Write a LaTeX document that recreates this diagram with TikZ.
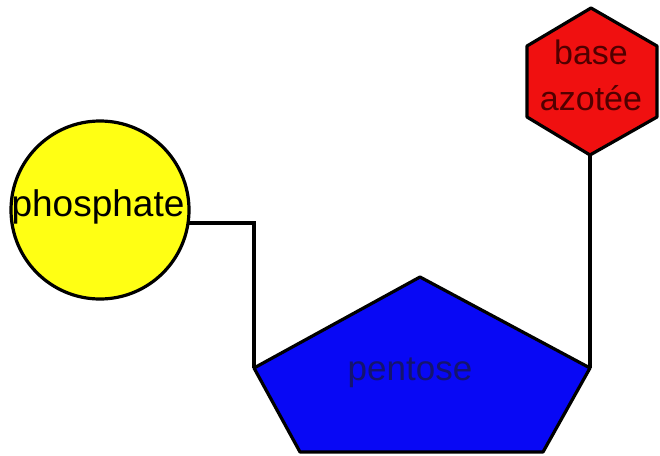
\documentclass[tikz,border=0pt]{standalone}
\usepackage{fontspec}
\setmainfont{Liberation Sans}
\definecolor{pentblue}{RGB}{8,8,245}
\definecolor{hexred}{RGB}{240,16,16}
\definecolor{sunyellow}{RGB}{255,255,20}
\definecolor{darkred}{RGB}{80,0,0}
\definecolor{darknavy}{RGB}{20,20,110}
\tikzset{
  shapeline/.style={draw=black, line width=3.2pt, line join=round},
  connector/.style={draw=black, line width=3.2pt},
  lbl/.style={inner sep=0pt, font=\fontsize{37}{44}\selectfont, align=center}
}
\begin{document}
\begin{tikzpicture}[x=1pt,y=-1pt]
\useasboundingbox[fill=white] (0,0) rectangle (660,455);
\coordinate (pTop) at (420,277);
\coordinate (pL) at (254,368);
\coordinate (pR) at (590,368);
\coordinate (pBL) at (300,452);
\coordinate (pBR) at (543,452);
\coordinate (hT) at (591,8);
\coordinate (hUL) at (527,46);
\coordinate (hLL) at (527,117);
\coordinate (hB) at (590,155);
\coordinate (hLR) at (657,117);
\coordinate (hUR) at (657,46);
\coordinate (c1) at (189,223);
% connectors
\draw[connector] (c1) -| (pL);
\draw[connector] (hB) -- (pR);
% phosphate
\node[circle, shapeline, fill=sunyellow, minimum size=178pt, inner sep=0pt] (phos) at (100,210) {};
\node[lbl, text=black] (phostxt) at (98,207) {phosphate};
% pentose
\filldraw[shapeline, fill=pentblue] (pTop) -- (pR) -- (pBR) -- (pBL) -- (pL) -- cycle;
\node[lbl, text=darknavy, font=\fontsize{35}{44}\selectfont] (pent) at (410,373) {pentose};
% base azotee
\filldraw[shapeline, fill=hexred] (hT) -- (hUR) -- (hLR) -- (hB) -- (hLL) -- (hUL) -- cycle;
\node[lbl, text=darkred, font=\fontsize{34}{46}\selectfont] (base) at (591,75) {base\\azotée};
\end{tikzpicture}
\end{document}
